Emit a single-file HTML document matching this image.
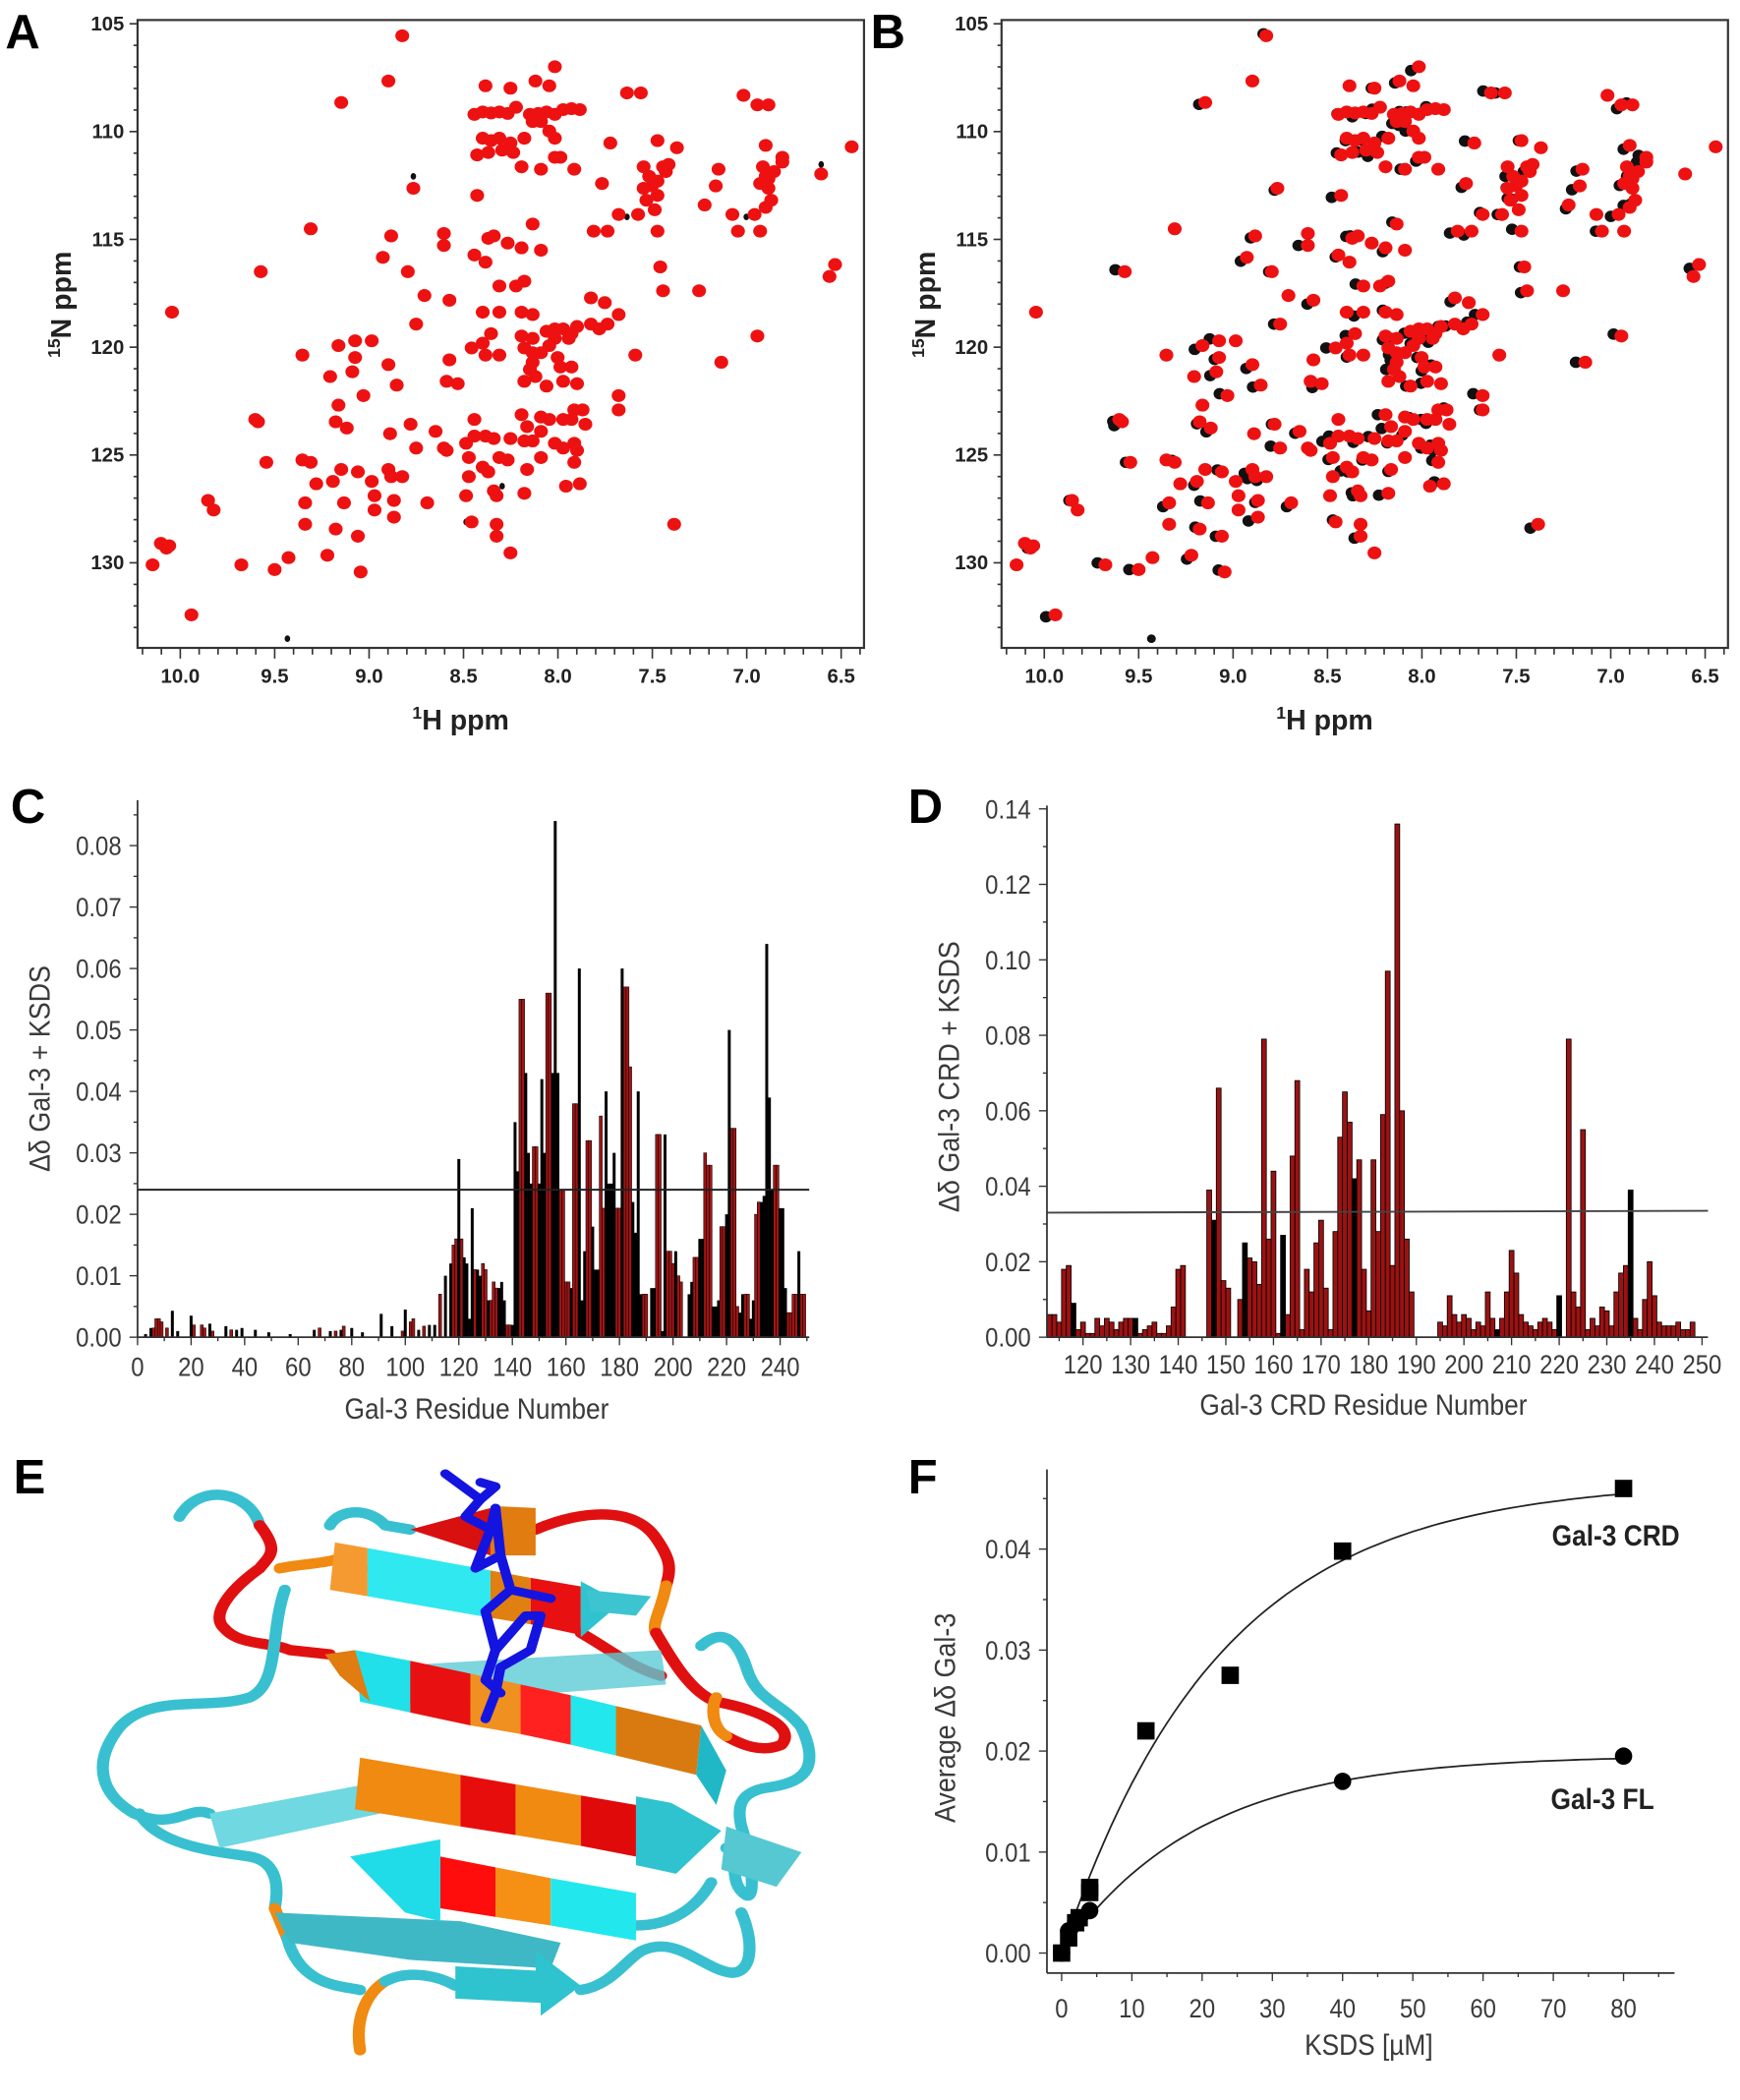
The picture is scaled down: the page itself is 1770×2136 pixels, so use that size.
<!DOCTYPE html>
<html><head><meta charset="utf-8"><style>
html,body{margin:0;padding:0;background:#fff;}
svg{display:block;}
.t{font-family:"Liberation Sans Narrow","Liberation Sans",sans-serif;fill:#3a3a3a;}
.b{font-family:"Liberation Sans",sans-serif;font-weight:bold;fill:#222;}
.L{font-family:"Liberation Sans",sans-serif;font-weight:bold;font-size:36px;fill:#000;}
</style></head><body>
<svg id="s" width="1770" height="2136" viewBox="0 0 1303 1572" preserveAspectRatio="none" xmlns="http://www.w3.org/2000/svg">
<rect width="1303" height="1572" fill="#fff"/>
<text class="L" x="4" y="36">A</text>
<text class="L" x="652" y="36">B</text>
<text class="L" x="8" y="616">C</text>
<text class="L" x="680" y="616">D</text>
<text class="L" x="10" y="1118">E</text>
<text class="L" x="680" y="1118">F</text>
<g id="gA"></g><g id="gB"></g><g id="gC"></g><g id="gD"></g><g id="gF"></g>
<!-- Panel E -->
<g transform="translate(44.2,1067.7) scale(0.3757,0.3221)" stroke-linejoin="round" stroke-linecap="round">
 <g fill="none" stroke-width="24">
  <path d="M240,210 C280,130 380,150 400,230" stroke="#38c0d0"/>
  <path d="M400,230 C440,290 420,300 400,330 C340,380 300,440 330,470 C360,510 420,500 460,520 L540,530" stroke="#e01010"/>
  <path d="M440,330 C480,320 520,320 550,310" stroke="#f08a10"/>
  <path d="M450,380 C420,480 440,600 380,630 C300,660 180,620 120,700 C60,790 90,860 150,900 C230,940 260,880 300,900" stroke="#38c0d0"/>
  <path d="M160,900 C200,980 330,990 380,1000 C430,1010 440,1060 430,1120" stroke="#38c0d0"/>
  <path d="M430,1120 L455,1190" stroke="#f08a10"/>
  <path d="M455,1190 C480,1300 560,1300 600,1310" stroke="#38c0d0"/>
  <path d="M600,1450 C590,1380 610,1320 650,1290" stroke="#f08a10"/>
  <path d="M650,1290 C700,1260 760,1280 790,1300" stroke="#38c0d0"/>
  <path d="M540,230 C560,190 620,190 650,230 L700,240" stroke="#38c0d0"/>
  <path d="M950,240 C1050,190 1150,190 1190,260 C1220,310 1220,330 1210,370" stroke="#e01010"/>
  <path d="M1210,370 C1200,430 1180,460 1190,480" stroke="#f08a10"/>
  <path d="M1190,480 C1220,540 1260,620 1310,640 C1400,660 1470,700 1440,740 C1400,760 1360,740 1330,720" stroke="#e01010"/>
  <path d="M1330,720 C1300,700 1300,650 1310,630" stroke="#f08a10"/>
  <path d="M1040,480 C1100,520 1140,560 1200,580" stroke="#e01010"/>
  <path d="M1280,510 C1320,470 1350,490 1370,560 C1390,640 1440,640 1480,700 C1520,800 1480,830 1410,840 C1360,850 1350,880 1360,930 C1380,1000 1390,1100 1370,1090 C1330,1060 1360,1000 1330,980" stroke="#38c0d0"/>
  <path d="M1150,1160 C1220,1160 1270,1120 1300,1060" stroke="#38c0d0"/>
  <path d="M1040,1310 C1100,1300 1130,1240 1160,1220 C1230,1180 1280,1260 1340,1270 C1390,1270 1380,1180 1360,1130" stroke="#38c0d0"/>
  <path d="M620,330 C650,300 700,300 720,340" stroke="#38c0d0" stroke-width="16"/>
 </g>
 <polygon points="300,900 620,830 640,900 320,980" fill="#6fd8e0"/>
 <polygon points="430,1130 800,1150 1000,1200 980,1260 700,1240 460,1200" fill="#3fb8c6"/>
 <polygon points="620,560 1200,520 1210,600 640,650" fill="#5ccbd6" opacity="0.8"/>
 <polygon points="1330,930 1480,990 1430,1070 1320,1030" fill="#55c8d2"/>
 <polygon points="600,770 800,810 800,930 590,890" fill="#f08a10"/>
 <polygon points="800,810 910,832 910,950 800,930" fill="#e80d0d"/>
 <polygon points="910,832 1040,858 1040,975 910,950" fill="#f08a10"/>
 <polygon points="1040,858 1150,880 1150,1000 1040,975" fill="#e00a0a"/>
 <polygon points="1150,860 1220,875 1320,940 1230,1040 1150,1020" fill="#2ec3cf"/>
 <polygon points="760,1000 870,1025 870,1140 760,1120" fill="#ff0c0c"/>
 <polygon points="870,1025 980,1050 980,1160 870,1140" fill="#f59014"/>
 <polygon points="980,1050 1150,1085 1150,1195 980,1160" fill="#22e8ee"/>
 <polygon points="760,960 760,1150 690,1130 580,1000" fill="#20dce8"/>
 <polygon points="590,520 700,545 700,665 600,640" fill="#22e0ea"/>
 <polygon points="700,545 820,575 820,695 700,665" fill="#e81010"/>
 <polygon points="820,575 920,600 920,715 820,695" fill="#f09020"/>
 <polygon points="920,600 1020,625 1020,740 920,715" fill="#ff2020"/>
 <polygon points="1020,625 1110,650 1110,765 1020,740" fill="#22e8ee"/>
 <polygon points="1110,650 1280,695 1270,810 1110,765" fill="#d97a10"/>
 <polygon points="1280,695 1330,800 1310,880 1270,810" fill="#20b8c6"/>
 <polygon points="590,520 530,530 560,580 620,640" fill="#e07c10"/>
 <polygon points="550,270 615,283 615,395 540,380" fill="#f59a30"/>
 <polygon points="615,283 860,335 860,445 615,395" fill="#30e8f0"/>
 <polygon points="860,335 940,352 940,460 860,445" fill="#e08010"/>
 <polygon points="940,352 1040,372 1040,485 940,460" fill="#e81010"/>
 <polygon points="1040,360 1120,410 1040,490" fill="#2ec3cf"/>
 <polygon points="1050,380 1180,395 1150,440 1060,430" fill="#3cc5d0"/>
 <polygon points="700,240 860,190 860,300" fill="#d81010"/>
 <polygon points="860,185 950,190 950,300 860,300" fill="#e07c10"/>
 <polygon points="790,1255 950,1265 950,1220 1040,1300 960,1370 960,1340 790,1330" fill="#2ec3cf"/>
 <g fill="none" stroke="#1414e0" stroke-width="20">
  <polyline points="770,110 840,170 810,210 860,240 830,330 880,300 900,380 980,400"/>
  <polyline points="840,170 870,140 840,130"/>
  <polyline points="860,240 870,190 880,300"/>
  <polyline points="900,380 850,430 870,520 930,440 960,440 940,520 880,560 870,620 850,680"/>
  <polyline points="870,520 850,590 880,620"/>
 </g>
</g>
<script>
(function(){
var NS="http://www.w3.org/2000/svg";
function el(p,t,a,txt){var e=document.createElementNS(NS,t);for(var k in a)e.setAttribute(k,a[k]);if(txt!==undefined)e.textContent=txt;p.appendChild(e);return e;}
function line(p,x1,y1,x2,y2,c,w){el(p,"line",{x1:x1,y1:y1,x2:x2,y2:y2,stroke:c||"#000","stroke-width":w||1});}
function tx(p,x,y,anchor,size,s,extra){var g=el(p,"g",{transform:"translate("+x+","+y+") scale(0.88,1)"});var a={x:0,y:0,"text-anchor":anchor,"font-size":size,class:"t"};if(extra)for(var k in extra)a[k]=extra[k];return el(g,"text",a,s);}
var P=[[725,75],[700,170],[615,215],[1000,140],[875,180],[920,185],[965,170],[990,180],[1130,195],[1155,195],[1340,200],[1365,220],[1385,220],
[855,240],[870,235],[885,237],[900,235],[915,238],[930,225],[955,240],[970,238],[985,235],[1000,240],[1015,230],[1030,228],[1045,230],
[960,255],[975,255],[870,290],[885,295],[900,290],[920,300],[945,290],[990,275],[1000,290],[1000,330],
[860,325],[880,320],[905,315],[925,320],[940,350],[975,355],[1010,330],[1035,355],[1100,300],[1185,295],[1220,310],[1380,305],[1410,330],[1535,308],
[745,395],[1085,385],[1160,350],[1170,370],[1175,390],[1160,395],[1185,380],[1200,360],[1205,345],[1185,410],[1165,420],[1195,350],
[1295,355],[1290,390],[1375,350],[1380,370],[1370,385],[1385,375],[1395,360],[1410,340],[1385,395],[1390,420],[1380,435],[1480,365],
[860,410],[1270,430],[1320,450],[1330,485],[1360,450],[1370,485],[1115,450],[1150,450],[1180,440],[1095,485],[1185,485],
[560,480],[705,495],[690,540],[800,490],[800,515],[855,535],[875,550],[880,500],[890,495],[915,510],[940,520],[960,470],[975,525],[1070,485],
[1505,555],[1495,580],[1190,560],[1195,610],[1260,610],[470,570],[735,570],[765,620],[810,630],[900,600],[930,600],[945,590],
[1065,625],[1090,635],[1115,660],[1065,680],[1080,690],[1095,680],[750,680],[870,655],[900,655],[940,655],[960,660],[985,695],[1000,690],[1015,690],[1040,685],[1030,700],
[310,655],[1365,705],[1300,760],[1145,745],[1025,710],[1000,710],[870,720],[885,700],[940,705],[945,730],[960,710],[960,740],[975,740],[990,725],[1005,750],
[545,745],[610,725],[640,715],[670,715],[640,750],[700,765],[810,755],[850,730],[875,745],[900,745],[960,760],[955,775],[965,790],[1010,770],[1030,770],
[805,800],[715,808],[825,805],[945,800],[985,810],[1015,800],[1040,805],[1115,830],[1115,860],
[595,790],[635,780],[655,830],[610,850],[605,885],[625,898],[855,880],[940,870],[950,895],[975,875],[990,880],[1015,880],[1035,860],[1030,880],[1050,860],[1055,890],
[460,880],[465,885],[703,910],[740,890],[785,905],[800,940],[840,930],[855,915],[875,915],[890,920],[920,920],[945,925],[960,925],[975,905],[1000,930],[1015,940],[1035,930],
[545,965],[560,970],[480,970],[615,985],[700,985],[750,940],[805,945],[845,960],[870,980],[900,960],[915,965],[950,985],[975,960],[1035,970],[1040,945],
[570,1015],[600,1010],[645,990],[670,1010],[705,1000],[725,1000],[845,1000],[880,990],[890,1030],[1020,1020],[1045,1015],
[375,1050],[385,1070],[550,1055],[620,1055],[675,1040],[710,1050],[770,1055],[840,1040],[895,1040],[945,1035],
[550,1100],[605,1110],[645,1125],[675,1070],[710,1085],[850,1095],[895,1100],[895,1125],[1215,1100],
[290,1140],[300,1150],[305,1145],[275,1185],[435,1185],[495,1195],[520,1170],[590,1165],[650,1200],[920,1160],
[345,1290]];
function nmr(g,dx,black){
  var S=el(g,"g",{transform:"translate("+dx+",0)"});
  var sc=el(S,"g",{transform:"scale(0.4155,0.3568)"});
  if(black){
    P.forEach(function(p,i){ if(i%3!==1) el(sc,"ellipse",{cx:p[0]-((i%5)*3+5),cy:p[1]+((i%4)*4-4),rx:11,ry:12,fill:"#111"}); });
  } else {
    [[745,370],[710,1045],[905,1020],[840,1095],[1125,195],[1130,455],[1345,455],[1480,345]].forEach(function(p){el(sc,"ellipse",{cx:p[0],cy:p[1],rx:5,ry:7,fill:"#111"});});
  }
  P.forEach(function(p){el(sc,"ellipse",{cx:p[0],cy:p[1],rx:12.5,ry:13.5,fill:"#ee1111"});});
  el(sc,"ellipse",{cx:518,cy:1340,rx:black?8:5,ry:black?9:7,fill:"#111"});
  el(S,"rect",{x:103,y:15,width:544,height:470,fill:"none",stroke:"#333","stroke-width":1.6});
  for(var k=0;k<=38;k++){var ppm=10.2-k*0.1;var x=135+(10-ppm)*141.4;if(x<104||x>646)continue;
    var maj=Math.abs(ppm*2-Math.round(ppm*2))<0.01;line(S,x,485,x,maj?493:490,"#333",1.2);}
  var xl=["10.0","9.5","9.0","8.5","8.0","7.5","7.0","6.5"];
  xl.forEach(function(t,i){el(S,"text",{x:135+i*70.7,y:511,"text-anchor":"middle","font-size":15,class:"b"},t);});
  for(var v=105;v<=133;v++){var y=17.8+(v-105)*16.14;var maj=v%5===0;line(S,103,y,maj?97:100,y,"#333",1.2);
    if(maj) el(S,"text",{x:93,y:y+5,"text-anchor":"end","font-size":15,class:"b"},v);}
  var t=el(S,"text",{x:345,y:546,"text-anchor":"middle","font-size":21,class:"b"});
  el(t,"tspan",{"font-size":13,dy:-8},"1");el(t,"tspan",{dy:8},"H  ppm");
  var t2=el(S,"text",{x:0,y:0,"text-anchor":"middle","font-size":21,class:"b",transform:"translate(53,228) rotate(-90)"});
  el(t2,"tspan",{"font-size":13,dy:-8},"15");el(t2,"tspan",{dy:8},"N  ppm");
}
nmr(document.getElementById("gA"),0,false);
nmr(document.getElementById("gB"),647,true);
var gC=document.getElementById("gC");
function xC(r){return 103+r*2.005;} function yC(v){return 1001-v*4600;}
var C=[[113,0.007,"r"],[115,0.010,"k"],[117,0.012,"k"],[118,0.015,"r"],[119,0.016,"r"],[120,0.029,"k"],[121,0.016,"r"],[122,0.013,"k"],[123,0.012,"k"],[124,0.003,"k"],[125,0.021,"k"],[126,0.011,"r"],[127,0.011,"k"],[128,0.010,"k"],[129,0.012,"r"],[130,0.011,"r"],[131,0.006,"k"],[132,0.006,"r"],[133,0.009,"r"],[134,0.008,"r"],[135,0.008,"k"],[136,0.009,"k"],[137,0.006,"k"],[138,0.002,"r"],[139,0.002,"r"],[140,0.002,"k"],
[141,0.035,"k"],[142,0.027,"k"],[143,0.055,"r"],[144,0.055,"r"],[145,0.043,"k"],[146,0.030,"k"],[147,0.025,"k"],[148,0.031,"r"],[149,0.031,"r"],[150,0.025,"k"],[151,0.042,"k"],[152,0.030,"k"],[153,0.056,"r"],[154,0.056,"r"],[155,0.043,"k"],[156,0.084,"k"],[157,0.043,"k"],[158,0.024,"r"],[159,0.024,"r"],[160,0.009,"r"],[161,0.009,"r"],[162,0.008,"k"],[163,0.038,"r"],[164,0.038,"r"],[165,0.060,"k"],[166,0.006,"k"],[167,0.014,"k"],[168,0.032,"r"],[169,0.032,"r"],[170,0.018,"k"],[171,0.011,"k"],[172,0.011,"k"],[173,0.036,"r"],[174,0.021,"r"],[175,0.040,"k"],[176,0.025,"k"],[177,0.025,"k"],[178,0.030,"k"],[179,0.021,"r"],[180,0.021,"r"],[181,0.060,"k"],[182,0.057,"r"],[183,0.057,"r"],[184,0.044,"r"],[185,0.022,"k"],[186,0.017,"k"],[187,0.040,"k"],[188,0.007,"k"],[189,0.007,"r"],[190,0.007,"r"],[192,0.008,"k"],[193,0.008,"k"],[194,0.033,"r"],[195,0.033,"r"],[196,0.001,"k"],[197,0.033,"k"],[198,0.014,"r"],[199,0.014,"r"],[200,0.012,"r"],[201,0.014,"k"],[202,0.010,"r"],[203,0.009,"r"],[206,0.007,"k"],[207,0.009,"k"],[208,0.013,"r"],[209,0.013,"r"],[210,0.016,"k"],[211,0.016,"k"],[212,0.030,"r"],[213,0.028,"r"],[214,0.028,"r"],[215,0.005,"k"],[216,0.005,"k"],[217,0.006,"k"],[218,0.018,"r"],[219,0.018,"r"],[220,0.020,"k"],[221,0.050,"k"],[222,0.034,"r"],[223,0.034,"r"],[224,0.005,"r"],[225,0.004,"k"],[226,0.007,"k"],[227,0.007,"r"],[228,0.007,"r"],[229,0.003,"k"],[230,0.006,"k"],[231,0.020,"r"],[232,0.022,"r"],[233,0.022,"k"],[234,0.023,"k"],[235,0.064,"k"],[236,0.039,"k"],[237,0.024,"k"],[238,0.028,"r"],[239,0.028,"r"],[240,0.021,"k"],[241,0.021,"k"],[242,0.008,"k"],[243,0.004,"r"],[244,0.004,"r"],[245,0.007,"r"],[246,0.007,"r"],[247,0.014,"k"],[248,0.007,"r"],[249,0.007,"r"]];
var sm=[[3,0.0005,"k"],[5,0.0015,"k"],[6,0.0015,"r"],[7,0.003,"r"],[8,0.003,"r"],[9,0.0025,"r"],[11,0.0015,"r"],[13,0.0043,"k"],[15,0.001,"k"],[20,0.0035,"k"],[21,0.002,"r"],[24,0.002,"r"],[25,0.0015,"r"],[27,0.0022,"k"],[28,0.001,"r"],[33,0.0018,"k"],[35,0.0012,"r"],[37,0.0012,"k"],[39,0.0015,"k"],[44,0.0012,"k"],[49,0.0008,"k"],[57,0.0005,"k"],[66,0.0012,"k"],[68,0.0015,"r"],[72,0.001,"k"],[74,0.001,"r"],[76,0.0012,"k"],[77,0.0018,"r"],[80,0.0015,"k"],[84,0.0008,"k"],[91,0.0038,"k"],[95,0.0018,"k"],[99,0.001,"r"],[100,0.0045,"k"],[102,0.0025,"r"],[103,0.003,"r"],[105,0.0012,"k"],[107,0.0018,"r"],[109,0.002,"k"],[111,0.002,"k"]];
sm.concat(C).forEach(function(b){var x=xC(b[0]);var y=yC(b[1]);
  el(gC,"rect",{x:x-1.1,y:y,width:2.2,height:1001-y,fill:b[2]==="r"?"#9e1515":"#000",stroke:"#000","stroke-width":b[2]==="r"?0.4:0});});
line(gC,103,yC(0.024),606,yC(0.024),"#222",1.4);
line(gC,103,599,103,1001,"#333",1.3);line(gC,103,1001,606,1001,"#333",1.3);
for(var i=0;i<=17;i++){var y=yC(i*0.005);if(y<600)continue;var maj=i%2===0;line(gC,103,y,maj?97:100,y,"#333",1);
  if(maj)tx(gC,91,y+7,"end",20,(i*0.005).toFixed(2));}
for(var r=0;r<=250;r+=10){var x=xC(r);line(gC,x,1001,x,r%20===0?1007:1004,"#333",1);
  if(r%20===0)tx(gC,x,1030,"middle",20,r);}
tx(gC,357,1062,"middle",22,"Gal-3 Residue Number");
el(gC,"text",{x:0,y:0,"text-anchor":"middle","font-size":22,class:"t",transform:"translate(37,800) rotate(-90) scale(0.9,1)"},"Δδ Gal-3 + KSDS");
var gD=document.getElementById("gD");
function xD(r){return 811+(r-120)*3.566;} function yD(v){return 1001-v*2825;}
var D={113:.006,114:.006,115:.004,116:.018,117:.019,118:[.009,"k"],119:.002,120:.004,121:.001,122:.001,123:.005,124:.003,125:.005,126:.004,127:.002,128:.004,129:.005,130:.005,131:[.005,"k"],132:.001,133:.002,134:.003,135:.004,136:.001,137:.001,138:.003,139:.008,140:.018,141:.019,142:.039,143:[.031,"k"],144:.066,145:.015,146:.013,147:0,148:.010,149:[.025,"k"],150:.021,151:.020,152:.014,153:.079,154:.026,155:.044,156:.001,157:[.027,"k"],158:.006,159:.048,160:.068,161:.002,162:.018,163:.012,164:.025,165:.031,166:.013,167:.002,168:.028,169:.053,170:.065,171:.057,172:[.042,"k"],173:.047,174:.018,175:.007,176:.047,177:.028,178:.059,179:.097,180:.019,181:.136,182:.060,183:.026,184:.012,185:0,186:.004,187:.003,188:.011,189:.006,190:.004,191:.006,192:.005,193:.002,194:.004,195:.003,196:.012,197:.005,198:[.002,"k"],199:.005,200:.012,201:.023,202:.017,203:.006,204:.004,205:.003,206:.002,207:.004,208:.005,209:.004,210:.002,211:[.011,"k"],212:.079,213:.012,214:.008,215:.055,216:.002,217:.005,218:.003,219:.008,220:.007,221:.003,222:.012,223:.017,224:.019,225:[.039,"k"],226:.005,227:.002,228:.010,229:.020,230:.011,231:.004,232:.003,233:.003,234:.003,235:.004,236:.002,237:.002,238:.004};
Object.keys(D).map(Number).forEach(function(k){var r=k<=141?k:(k<=147?k+4.5:(k<=185?k+5:(k<=211?k+9:k+10)));
  var v=D[k],c="r";if(Array.isArray(v)){c=v[1];v=v[0];}
  var x=xD(r);var y=yD(v);
  el(gD,"rect",{x:x-1.8,y:y,width:3.6,height:1001-y,fill:c==="r"?"#9b1212":"#000",stroke:"#000","stroke-width":0.6});});
line(gD,784,yD(0.033),1279,yD(0.0335),"#444",1.4);
line(gD,784,603,784,1001,"#333",1.3);line(gD,784,1001,1279,1001,"#333",1.3);
for(var i=0;i<=14;i++){var y=yD(i*0.01);var maj=i%2===0;line(gD,784,y,maj?778:781,y,"#333",1);
  if(maj)tx(gD,772,y+7,"end",20,(i*0.01).toFixed(2));}
for(var r=115;r<=250;r+=5){var x=xD(r);line(gD,x,1001,x,r%10===0?1007:1004,"#333",1);
  if(r%10===0&&r>=120)tx(gD,x,1028,"middle",20,r);}
tx(gD,1021,1059,"middle",22,"Gal-3 CRD Residue Number");
el(gD,"text",{x:0,y:0,"text-anchor":"middle","font-size":22,class:"t",transform:"translate(718,806) rotate(-90) scale(0.9,1)"},"Δδ Gal-3 CRD + KSDS");
var gF=document.getElementById("gF");
function xF(k){return 795+k*5.26;} function yF(v){return 1462-v*7560;}
line(gF,784,1100,784,1477,"#333",1.3);line(gF,784,1477,1254,1477,"#333",1.3);
for(var i=0;i<=9;i++){var y=yF(i*0.005);var maj=i%2===0;line(gF,784,y,maj?778:781,y,"#333",1);
  if(maj)tx(gF,772,y+7,"end",20,(i*0.005).toFixed(2));}
for(var k=0;k<=85;k+=5){var x=xF(k);line(gF,x,1477,x,k%10===0?1483:1480,"#333",1);
  if(k%10===0)tx(gF,x,1510,"middle",20,k);}
function curve(A,K){var d="";for(var k=0;k<=80;k+=1){d+=(k?"L":"M")+xF(k).toFixed(1)+","+yF(A*(1-Math.exp(-k/K))).toFixed(1);}el(gF,"path",{d:d,fill:"none",stroke:"#222","stroke-width":1.3});}
curve(0.0468,22.5);curve(0.0196,19.6);
[[0,0],[1,0.0015],[2,0.003],[2.5,0.0035],[4,0.0065],[4,0.006],[12,0.022],[24,0.0275],[40,0.0398],[80,0.046]].forEach(function(p){el(gF,"rect",{x:xF(p[0])-6.5,y:yF(p[1])-6.5,width:13,height:13,fill:"#000"});});
[[0,0],[1,0.0022],[2,0.0032],[4,0.0042],[40,0.017],[80,0.0195]].forEach(function(p){el(gF,"circle",{cx:xF(p[0]),cy:yF(p[1]),r:6.5,fill:"#000"});});
tx(gF,1210,1157,"middle",22,"Gal-3 CRD",{style:"fill:#222;font-weight:bold"});
tx(gF,1200,1354,"middle",22,"Gal-3 FL",{style:"fill:#222;font-weight:bold"});
tx(gF,1025,1538,"middle",22,"KSDS [µM]");
el(gF,"text",{x:0,y:0,"text-anchor":"middle","font-size":22,class:"t",transform:"translate(715,1286) rotate(-90) scale(0.9,1)"},"Average  Δδ Gal-3");
})();
</script>
</svg>
</body></html>
